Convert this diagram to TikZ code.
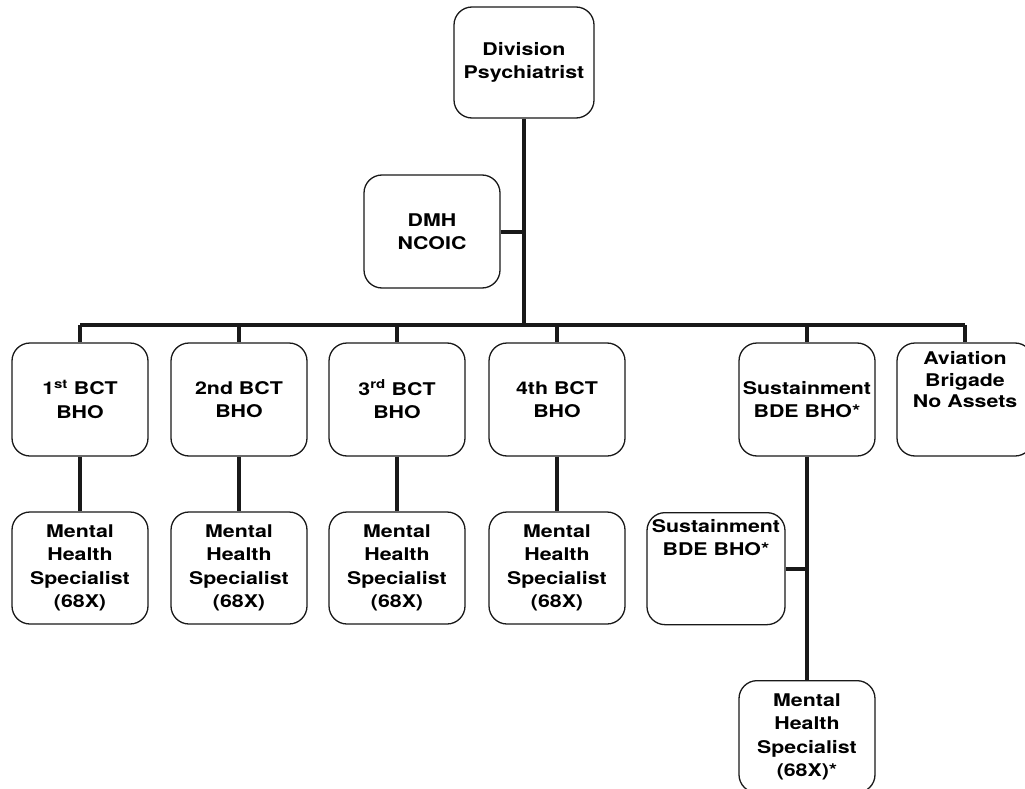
\documentclass[tikz,border=0pt]{standalone}
\usepackage{fontspec}
\setmainfont{TeX Gyre Heros}[FakeStretch=1.22]
\begin{document}
\begin{tikzpicture}[x=1pt,y=-1pt,
  box/.style={draw=black!90, line width=1.3pt, rounded corners=18pt, minimum width=136pt, minimum height=113pt, align=center, font=\fontsize{17.5}{23.5}\selectfont\bfseries, inner sep=2pt},
  link/.style={draw=black!90, line width=4pt}]
\useasboundingbox (0,0) rectangle (1025,789);
\node[box, minimum width=140pt, minimum height=111pt] (div) at (524,62.5) {Division\\Psychiatrist};
\node[box] (dmh) at (432,231.5) {DMH\\NCOIC};
\node[box] (b1) at (80,399.5) {1\textsuperscript{st} BCT\\BHO};
\node[box] (b2) at (239,399.5) {2nd BCT\\BHO};
\node[box] (b3) at (397,399.5) {3\textsuperscript{rd} BCT\\BHO};
\node[box] (b4) at (557,399.5) {4th BCT\\BHO};
\node[box] (sb) at (807,399.5) {Sustainment\\BDE BHO*};
\node[box, text depth=40pt, font=\fontsize{17.5}{21.5}\selectfont\bfseries] (av) at (965,399.5) {Aviation\\Brigade\\No Assets};
\node[box, minimum height=112pt] (m1) at (80,568) {Mental\\Health\\Specialist\\(68X)};
\node[box, minimum height=112pt] (m2) at (239,568) {Mental\\Health\\Specialist\\(68X)};
\node[box, minimum height=112pt] (m3) at (397,568) {Mental\\Health\\Specialist\\(68X)};
\node[box, minimum height=112pt] (m4) at (557,568) {Mental\\Health\\Specialist\\(68X)};
\node[box, minimum width=138pt, minimum height=112pt, text depth=62pt, anchor=north] (s2) at (716,512) {Sustainment\\BDE BHO*};
\node[box, minimum height=112pt, anchor=north] (m5) at (807,680) {Mental\\Health\\Specialist\\(68X)*};
\coordinate (busy) at (0,325);
\draw[link] (div.south) -- (div.south |- busy);
\draw[link] (dmh.east) -- (div.south |- dmh.east);
\draw[link] (b1.north |- busy) -- (av.north |- busy);
\foreach \n in {b1,b2,b3,b4,sb,av} \draw[link] (\n.north |- busy) -- (\n.north);
\foreach \a/\b in {b1/m1,b2/m2,b3/m3,b4/m4} \draw[link] (\a.south) -- (\b.north);
\draw[link] (sb.south) -- (m5.north);
\draw[link] (s2.east) -- (sb.south |- s2.east);
\end{tikzpicture}
\end{document}
